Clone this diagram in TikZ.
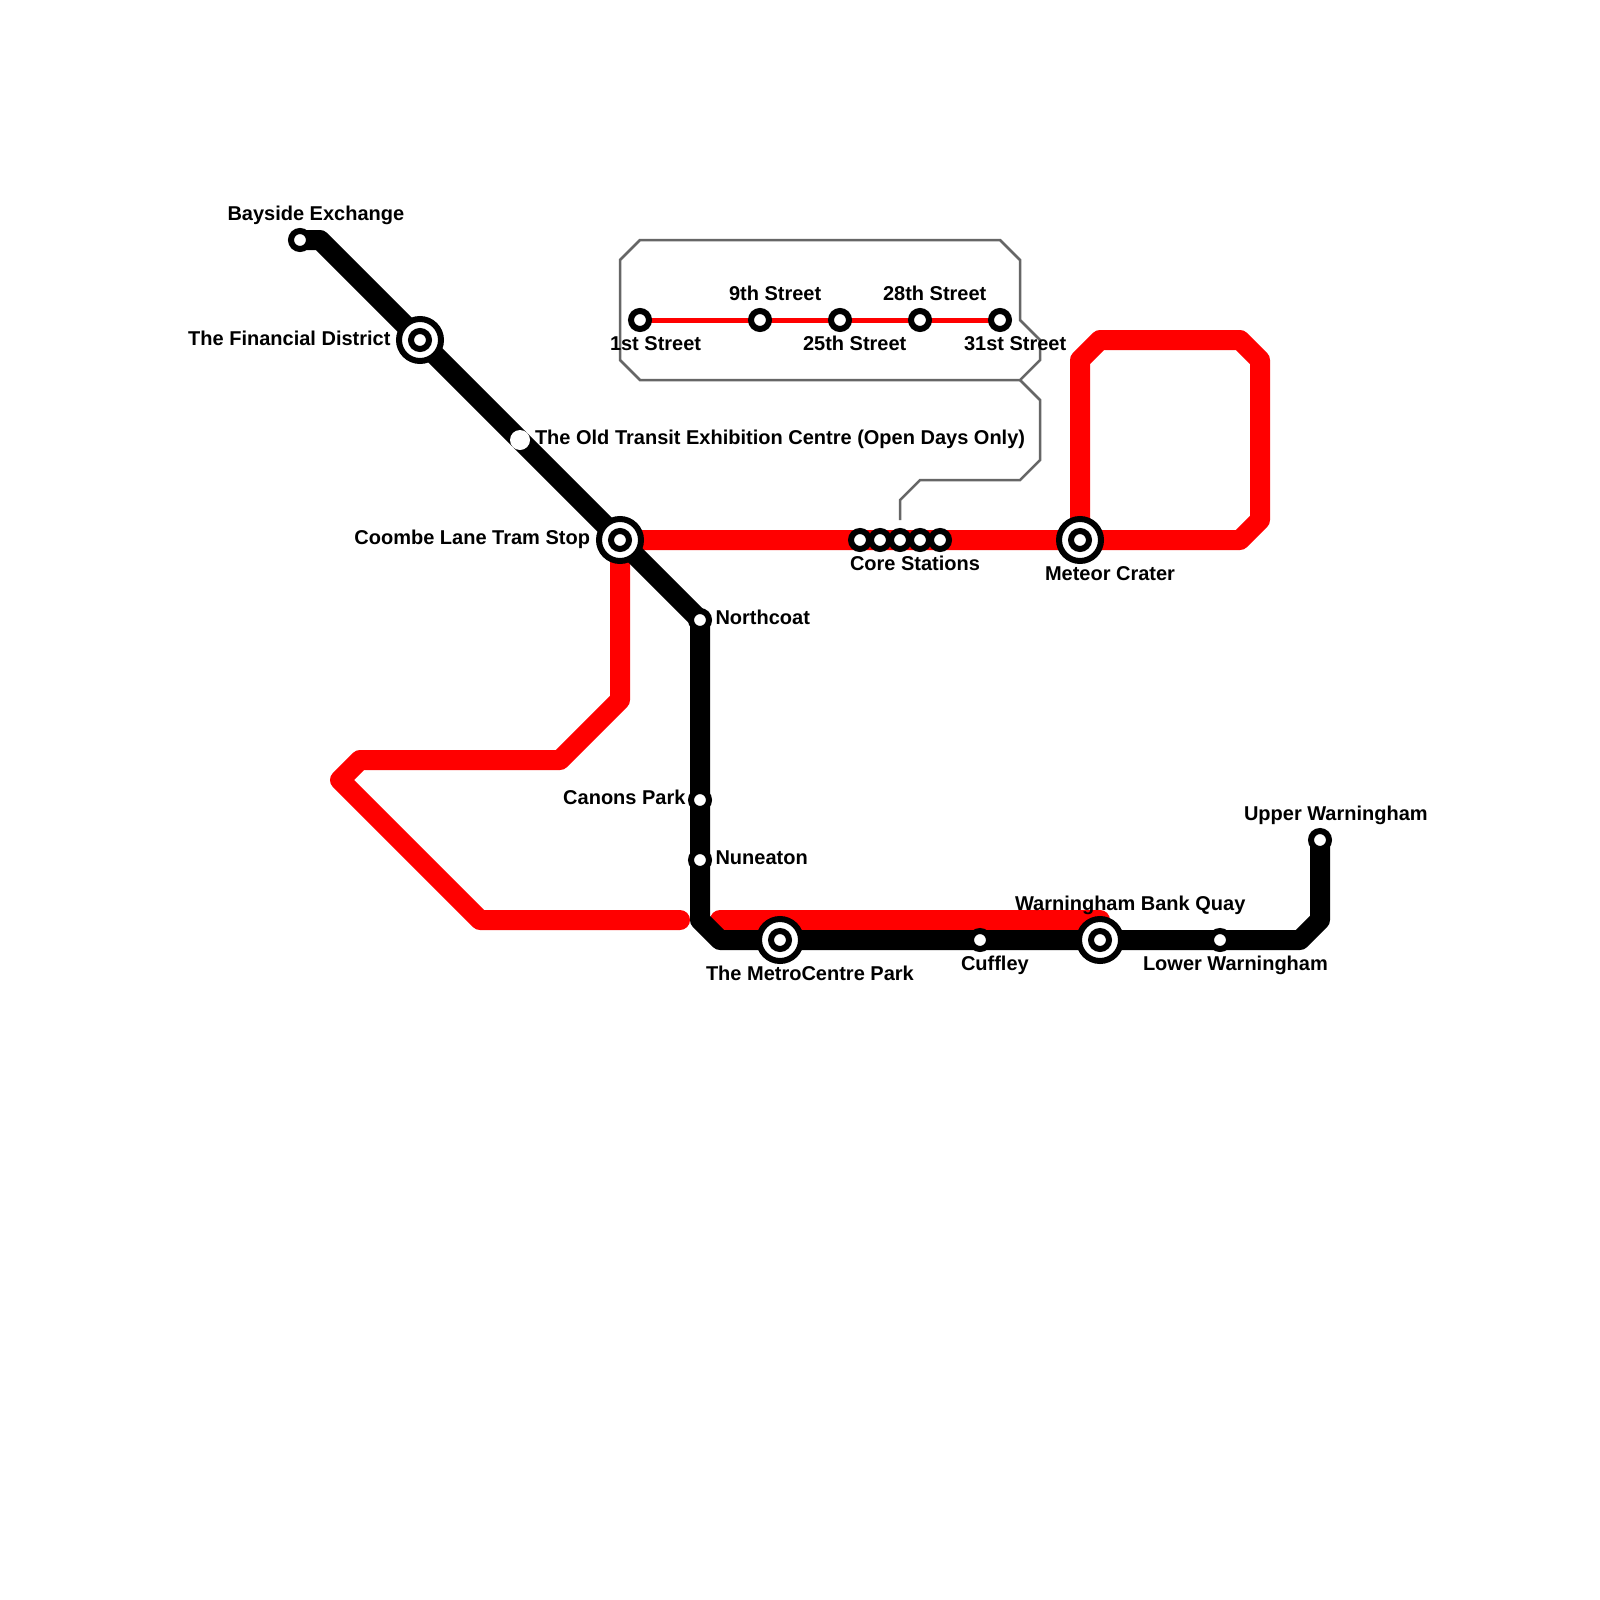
\documentclass[tikz,border=0pt]{standalone}
\usepackage{fontspec}
\setmainfont{Liberation Sans}
\usetikzlibrary{backgrounds}
\definecolor{linered}{HTML}{FF0000}
\definecolor{boxgrey}{HTML}{666666}
\tikzset{
  thickline/.style={line width=20pt,line join=round,line cap=round},
  redline/.style={thickline,draw=linered},
  blackline/.style={thickline,draw=black},
  thinline/.style={line width=5pt,draw=linered},
  greyline/.style={line width=2.5pt,draw=boxgrey,line join=miter},
  stn/.style={circle,draw=black,fill=white,line width=6pt,minimum size=18pt,inner sep=0pt},
  bigring/.style={circle,draw=black,fill=white,line width=6pt,minimum size=42pt,inner sep=0pt},
  whitedot/.style={circle,fill=white,draw=none,minimum size=20pt,inner sep=0pt,outer sep=0pt},
  lab/.style={font=\fontsize{20pt}{24pt}\selectfont\bfseries,text=black,inner sep=0pt,outer sep=0pt},
  labl/.style={lab,anchor=base west},
  labr/.style={lab,anchor=base east}
}
\begin{document}
\begin{tikzpicture}[x=1pt,y=-1pt]
\useasboundingbox (0,0) rectangle (1600,1600);

% interchanges
\node[bigring] (fin) at (420,340) {};
\node[stn] (finin) at (fin) {};
\node[bigring] (coombe) at (620,540) {};
\node[stn] (coombein) at (coombe) {};
\node[bigring] (meteor) at (1080,540) {};
\node[stn] (meteorin) at (meteor) {};
\node[bigring] (metro) at (780,940) {};
\node[stn] (metroin) at (metro) {};
\node[bigring] (bank) at (1100,940) {};
\node[stn] (bankin) at (bank) {};

% stations
\node[stn] (bayside) at (300,240) {};
\node[whitedot] (old) at (520,440) {};
\node[stn] (north) at (700,620) {};
\node[stn] (canons) at (700,800) {};
\node[stn] (nun) at (700,860) {};
\node[stn] (cuff) at (980,940) {};
\node[stn] (lower) at (1220,940) {};
\node[stn] (upper) at (1320,840) {};
\node[stn] (st1) at (640,320) {};
\node[stn] (st9) at (760,320) {};
\node[stn] (st25) at (840,320) {};
\node[stn] (st28) at (920,320) {};
\node[stn] (st31) at (1000,320) {};
\node[stn] (core1) at (860,540) {};
\node[stn] (core2) at (880,540) {};
\node[stn] (core3) at (900,540) {};
\node[stn] (core4) at (920,540) {};
\node[stn] (core5) at (940,540) {};

% way-points
\coordinate (b1) at (320,240);
\coordinate (b2) at (700,920);
\coordinate (b3) at (720,940);
\coordinate (b4) at (1300,940);
\coordinate (b5) at (1320,920);
\coordinate (r1) at (1080,360);
\coordinate (r2) at (1100,340);
\coordinate (r3) at (1240,340);
\coordinate (r4) at (1260,360);
\coordinate (r5) at (1260,520);
\coordinate (r6) at (1240,540);
\coordinate (r7) at (620,700);
\coordinate (r8) at (560,760);
\coordinate (r9) at (360,760);
\coordinate (r10) at (340,780);
\coordinate (r11) at (480,920);
\coordinate (r12) at (680,920);
\coordinate (r13) at (720,920);
\coordinate (r14) at (1100,920);
\coordinate (g1) at (620,260);
\coordinate (g2) at (640,240);
\coordinate (g3) at (1000,240);
\coordinate (g4) at (1020,260);
\coordinate (g5) at (1020,320);
\coordinate (g6) at (1040,340);
\coordinate (g7) at (1040,360);
\coordinate (g8) at (1020,380);
\coordinate (g9) at (640,380);
\coordinate (g10) at (620,360);
\coordinate (g11) at (1040,400);
\coordinate (g12) at (1040,460);
\coordinate (g13) at (1020,480);
\coordinate (g14) at (920,480);
\coordinate (g15) at (900,500);
\coordinate (g16) at (900,520);

\begin{scope}[on background layer]
\fill[white] (0,0) rectangle (1600,1600);
\draw[redline] (coombe.center) -- (meteor.center) -- (r1) -- (r2) -- (r3) -- (r4) -- (r5) -- (r6) -- (meteor.center);
\draw[redline] (coombe.center) -- (r7) -- (r8) -- (r9) -- (r10) -- (r11) -- (r12);
\draw[redline] (r13) -- (r14);
\draw[blackline] (bayside.center) -- (b1) -- (fin.center) -- (old.center) -- (coombe.center) -- (north.center) -- (canons.center) -- (nun.center) -- (b2) -- (b3) -- (metro.center) -- (cuff.center) -- (bank.center) -- (lower.center) -- (b4) -- (b5) -- (upper.center);
\draw[thinline] (st1.center) -- (st9.center) -- (st25.center) -- (st28.center) -- (st31.center);
\draw[greyline] (g1) -- (g2) -- (g3) -- (g4) -- (g5) -- (g6) -- (g7) -- (g8) -- (g9) -- (g10) -- cycle;
\draw[greyline] (g8) -- (g11) -- (g12) -- (g13) -- (g14) -- (g15) -- (g16);
\end{scope}

% labels
\node[labl] (lbayside) at (227.5,220) {Bayside Exchange};
\node[labr] (lfin) at (390.5,345) {The Financial District};
\node[labl] (lold) at (535,444.7) {The Old Transit Exhibition Centre (Open Days Only)};
\node[labr] (lcoombe) at (590,544.7) {Coombe Lane Tram Stop};
\node[labl] (lst1) at (610,350) {1st Street};
\node[labl] (lst9) at (729,300) {9th Street};
\node[labl] (lst25) at (803,350) {25th Street};
\node[labl] (lst28) at (883,300) {28th Street};
\node[labl] (lst31) at (964,350) {31st Street};
\node[labl] (lcore) at (850,570) {Core Stations};
\node[labl] (lmeteor) at (1045,580) {Meteor Crater};
\node[labl] (lnorth) at (715.5,624.5) {Northcoat};
\node[labr] (lcanons) at (685.5,804.5) {Canons Park};
\node[labl] (lnun) at (715.5,864.5) {Nuneaton};
\node[labl] (lmetro) at (706,980) {The MetroCentre Park};
\node[labl] (lcuff) at (961,970) {Cuffley};
\node[labl] (lbank) at (1015,910) {Warningham Bank Quay};
\node[labl] (llower) at (1143,970) {Lower Warningham};
\node[labl] (lupper) at (1244,820) {Upper Warningham};
\end{tikzpicture}
\end{document}
